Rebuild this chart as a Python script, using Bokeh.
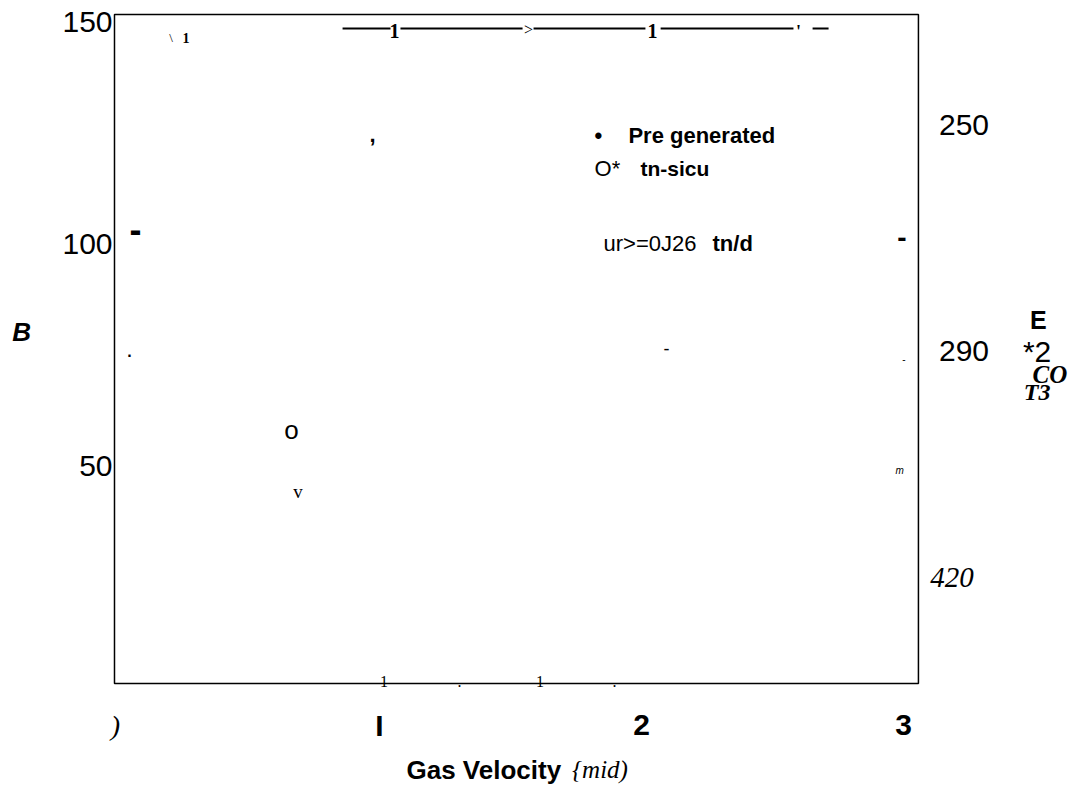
from bokeh.plotting import figure
from bokeh.models import Label, Range1d
from bokeh.core.properties import value
from bokeh.embed import file_html
from bokeh.resources import INLINE

SANS = "Liberation Sans"
SERIF = "Liberation Serif"

# axis ticks and their printed labels
y_ticks = [50, 100, 150]
x_ticks = [1, 2, 3]
x_tick_labels = ["I", "2", "3"]
x_origin_label = ")"

# secondary scale printed on the right
right_labels = ["250", "290"]
right_italic_label = "420"

# axis titles
x_title = "Gas Velocity"
x_unit = "{mid)"
y_title = "B"
right_title = ["E", "*2"]
right_title_serif = ["CO", "T3"]

# legend
legend_symbols = ["\u2022", "O*"]
legend_names = ["Pre generated", "tn-sicu"]
legend_note = ("ur>=0J26", "tn/d")

# plotting box in data units
X_MIN, X_MAX = -0.0115, 3.057
Y_MIN, Y_MAX = 1.13, 151.8

# the canvas spans a little more than the box so that the tick labels and
# titles around it share the same scales
p = figure(width=1070, height=786, output_backend="svg", toolbar_location=None,
           x_range=Range1d(-0.4466, 3.6374), y_range=Range1d(-22.07, 154.95),
           x_axis_type=None, y_axis_type=None,
           min_border=0, min_border_left=0, min_border_right=0,
           min_border_top=0, min_border_bottom=0,
           background_fill_color="white", border_fill_color="white",
           outline_line_color=None)
p.grid.visible = False

# plotting box
p.quad(left=[X_MIN], right=[X_MAX], bottom=[Y_MIN], top=[Y_MAX],
       fill_color=None, line_color="black", line_width=1.5)

# y tick labels, right-aligned just outside the box
p.text(x=[X_MIN - 0.0075] * len(y_ticks), y=y_ticks,
       text=[str(t) for t in y_ticks], text_font=value(SANS),
       text_font_size="30px", text_align="right", text_baseline="middle",
       text_color="black")


def put(text, x, y, size, font=SANS, style="normal", align="center", baseline="middle"):
    p.add_layout(Label(x=x, y=y, text=text, text_font=font,
                       text_font_size=f"{size}px", text_font_style=style,
                       text_align=align, text_baseline=baseline,
                       text_color="black"))


# x tick labels below the box
X_LABEL_Y = -8.33
for t, s in zip(x_ticks, x_tick_labels):
    put(s, t, X_LABEL_Y, 30, SANS, "bold")
put(x_origin_label, -0.0076, X_LABEL_Y, 28, SERIF, "italic")

# axis titles
TITLE_Y = -18.3
put(x_title, 1.103, TITLE_Y, 26, SANS, "bold", align="left")
put(x_unit, 1.735, TITLE_Y, 25, SERIF, "italic", align="left")
put(y_title, -0.366, 80.2, 26, SANS, "bold italic")

# right-hand scale and title
put(right_labels[0], 3.231, 126.8, 30)
put(right_labels[1], 3.231, 75.9, 30)
put(right_italic_label, 3.185, 25.0, 29, SERIF, "italic")
put(right_title[0], 3.515, 83.1, 25, SANS, "bold")
put(right_title[1], 3.510, 75.9, 30)
put(right_title_serif[0], 3.559, 70.7, 25, SERIF, "bold italic")
put(right_title_serif[1], 3.510, 66.7, 24, SERIF, "bold italic")

# legend block
ROW1, ROW2, ROW3 = 124.5, 117.1, 100.2
put(legend_symbols[0], 1.835, ROW1, 22, SANS, "bold")
put(legend_names[0], 1.950, ROW1, 22, SANS, "bold", align="left")
put(legend_symbols[1], 1.821, ROW2, 22, SANS, "normal", align="left")
put(legend_names[1], 1.996, ROW2, 21, SANS, "bold", align="left")
put(legend_note[0], 1.855, ROW3, 22, SANS, "normal", align="left")
put(legend_note[1], 2.271, ROW3, 22, SANS, "bold", align="left")

# header rule along the top of the box
p.segment(x0=[0.859, 1.080, 1.588, 2.073, 2.653],
          y0=[148.65] * 5,
          x1=[1.042, 1.546, 2.015, 2.580, 2.714],
          y1=[148.65] * 5, line_width=2, line_color="black")
put("1", 1.057, 147.97, 20, SERIF, "bold", baseline="alphabetic")
put(">", 1.569, 148.4, 16, SERIF, "normal", baseline="alphabetic")
put("1", 2.042, 147.97, 20, SERIF, "bold", baseline="alphabetic")
put("'", 2.599, 147.9, 18, SERIF, "bold", baseline="alphabetic")
put("\\", 0.204, 146.6, 13, SERIF, "normal")
put("1", 0.261, 146.6, 14, SERIF, "bold")

# scattered marks inside the box
put(",", 0.973, 124.8, 22, SANS, "bold")
put("-", 0.069, 103.5, 36, SANS, "bold")
put("-", 2.994, 101.5, 28, SANS, "bold")
put(".", 0.046, 75.9, 16, SANS, "bold", baseline="alphabetic")
put("-", 2.095, 76.6, 18)
put("-", 3.002, 74.3, 10)
put("o", 0.664, 58.3, 26)
put("v", 0.689, 44.4, 19, SERIF)
put("m", 2.985, 49.2, 10, SANS, "italic")

# tick remnants along the bottom edge
for txt, xv in (("1", 1.017), (".", 1.305), ("1", 1.613), (".", 1.897)):
    put(txt, xv, 1.6, 16, SERIF, "normal", baseline="alphabetic")

open("out.html", "w").write(file_html(p, INLINE))
